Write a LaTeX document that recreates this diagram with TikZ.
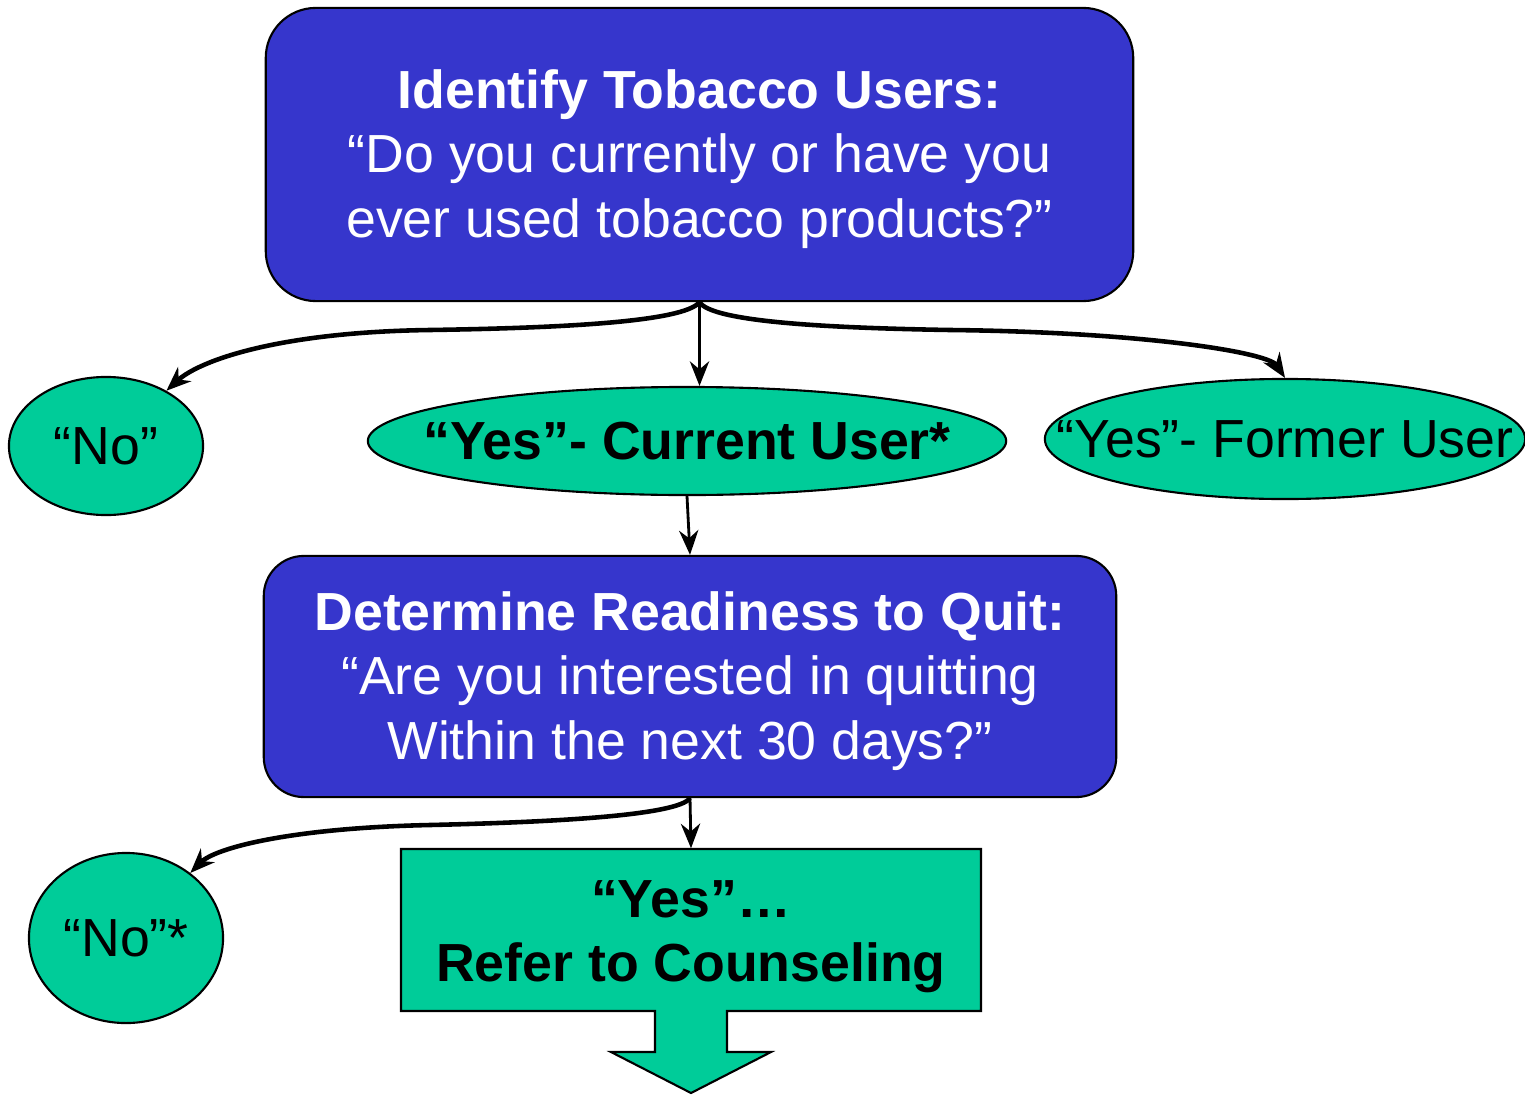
\documentclass[tikz,border=0pt]{standalone}
\usepackage{fontspec}
\setmainfont{Liberation Sans}
\usetikzlibrary{shapes, arrows.meta, positioning}
\usepackage{xcolor}
\definecolor{qblue}{RGB}{54,54,204}
\definecolor{qgreen}{RGB}{0,204,153}

\begin{document}
\begin{tikzpicture}[x=0.01cm, y=-0.01cm, font=\fontsize{15.25}{18.3}\selectfont]
            \tikzstyle{question} = [rectangle, draw=black, semithick, fill=qblue, text=white, align=center]
            \tikzstyle{answer} = [ellipse, draw=black, semithick, fill=qgreen, inner sep=0pt]
            \tikzstyle{arrow} = [thick, -{Stealth[length=7pt, width=5.5pt]}]
            \tikzstyle{branch} = [line width=1.3pt, -{Stealth[length=7pt, width=5.5pt]}]

            \useasboundingbox (0,0) rectangle (1525,1094);

            \node (identify)[question, rounded corners=0.5cm, minimum width=8.67cm, minimum height=2.93cm] at (699.5,154.5) {\rule{0pt}{0.48cm}\textbf{Identify Tobacco Users:}\\ “Do you currently or have you\\ ever used tobacco products?”};
            \node (never)[answer, minimum width=1.94cm, minimum height=1.38cm] at (106,446) {“No”};
            \node (current)[answer, minimum width=6.38cm, minimum height=1.08cm] at (687,441) {\makebox[0pt]{\textbf{“Yes”- Current User*}}};
            \node (former)[answer, minimum width=4.8cm, minimum height=1.2cm] at (1285,439) {\makebox[0pt]{“Yes”- Former User}};

            \node (readiness)[question, rounded corners=0.4cm, minimum width=8.52cm, minimum height=2.41cm] at (690,676.5) {\rule{0pt}{0.48cm}\textbf{Determine Readiness to Quit:}\\ “Are you interested in quitting\hspace{0.15cm}\\ Within the next 30 days?”};
            \node (notready)[answer, minimum width=1.94cm, minimum height=1.7cm] at (126,938) {“No”*};

            % counseling box with its down arrow
            \draw[semithick, fill=qgreen] (401,849) -- (981,849) -- (981,1011) -- (727,1011) -- (727,1052) -- (771,1052) -- (691,1093) -- (611,1052) -- (655,1052) -- (655,1011) -- (401,1011) -- cycle;
            \node (counseling)[minimum width=5.8cm, minimum height=1.62cm, align=center] at (691,930) {\rule{0pt}{0.5cm}\textbf{“Yes”…}\\ \textbf{Refer to Counseling}};

            \draw [arrow] (identify.south) -- (identify.south |- current.north);
            \draw [branch] (identify.south) .. controls (684,322) and (560,328) .. (430,330) .. controls (280,332) and (200,360) .. (never);
            \draw [branch] (identify.south) .. controls (712,322) and (830,328) .. (950,330) .. controls (1140,332) and (1268,352) .. (former.north);
            \draw [arrow] (current.south) -- (readiness.north);
            \draw [arrow] (readiness.south) -- (counseling.north);
            \draw [branch] (readiness.south) .. controls (678,815) and (560,822) .. (430,825) .. controls (290,828) and (215,848) .. (notready);
        \end{tikzpicture}
\end{document}
